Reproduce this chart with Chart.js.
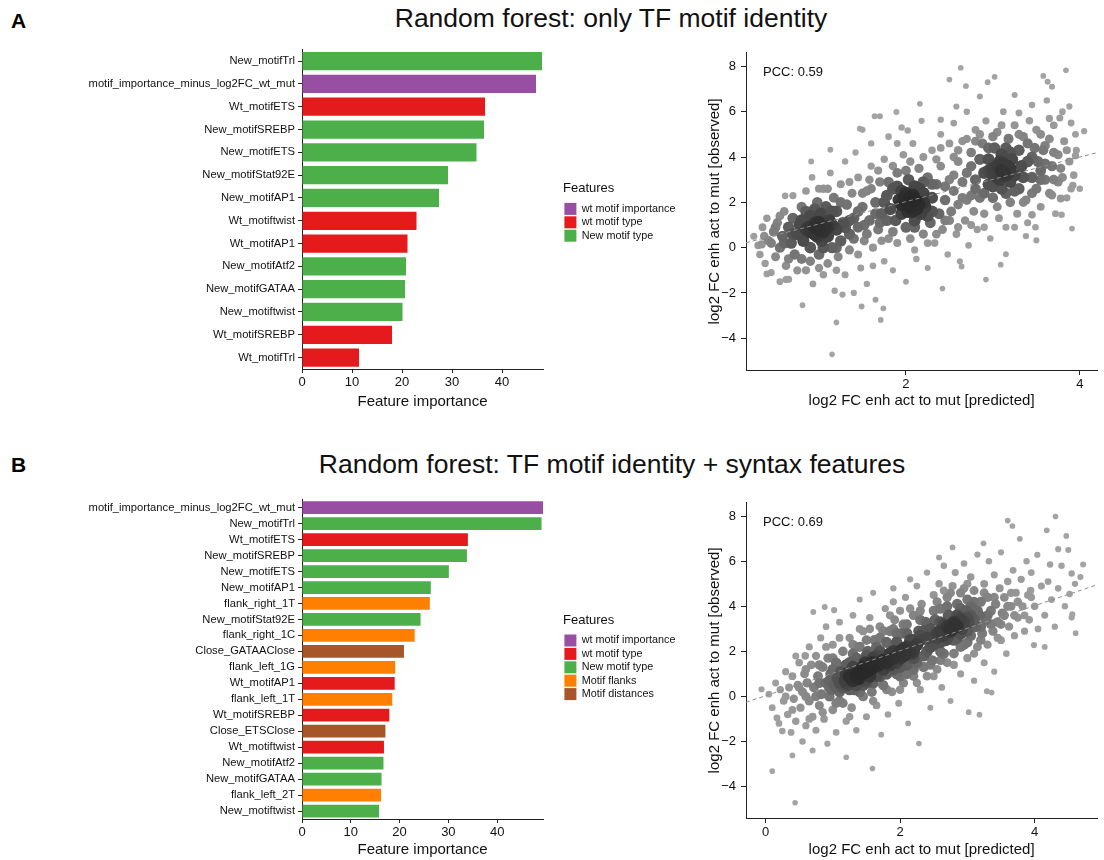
<!DOCTYPE html>
<html>
<head>
<meta charset="utf-8">
<script src="https://cdn.jsdelivr.net/npm/chart.js@4"></script>
<style>
  body { margin: 0; background: #fff; font-family: "Liberation Sans", Arial, Helvetica, sans-serif; }
  #fig { position: relative; width: 1104px; height: 860px; overflow: hidden; }
  .box { position: absolute; }
  .panel { position: absolute; font-weight: bold; font-size: 21px; color: #000; }
  .title { position: absolute; font-size: 26.5px; color: #111; white-space: nowrap; transform: translateX(-50%); }
</style>
</head>
<body>
<div id="fig">
  <div class="panel" style="left:11px;top:9px">A</div>
  <div class="title" style="left:611px;top:3px">Random forest: only TF motif identity</div>
  <div class="box" style="left:0;top:40px;width:720px;height:372px"><canvas id="barA"></canvas></div>
  <div class="box" style="left:690px;top:40px;width:414px;height:380px"><canvas id="scatA"></canvas></div>

  <div class="panel" style="left:11px;top:453px">B</div>
  <div class="title" style="left:612px;top:449px">Random forest: TF motif identity + syntax features</div>
  <div class="box" style="left:0;top:490px;width:720px;height:370px"><canvas id="barB"></canvas></div>
  <div class="box" style="left:690px;top:490px;width:414px;height:370px"><canvas id="scatB"></canvas></div>
</div>

<script>
// ---- data ----
const groupNames = ['wt motif importance', 'wt motif type', 'New motif type', 'Motif flanks', 'Motif distances'];
const groupColors = ['#984ea3', '#e41a1c', '#4daf4a', '#ff7f00', '#a65628'];

const featuresA = ['New_motifTrl', 'motif_importance_minus_log2FC_wt_mut', 'Wt_motifETS', 'New_motifSREBP',
  'New_motifETS', 'New_motifStat92E', 'New_motifAP1', 'Wt_motiftwist', 'Wt_motifAP1', 'New_motifAtf2',
  'New_motifGATAA', 'New_motiftwist', 'Wt_motifSREBP', 'Wt_motifTrl'];
const importanceA = [48.0, 46.8, 36.6, 36.4, 34.9, 29.2, 27.4, 22.9, 21.1, 20.8, 20.6, 20.1, 18.0, 11.4];
const groupA = ['New motif type', 'wt motif importance', 'wt motif type', 'New motif type', 'New motif type',
  'New motif type', 'New motif type', 'wt motif type', 'wt motif type', 'New motif type', 'New motif type',
  'New motif type', 'wt motif type', 'wt motif type'];

const featuresB = ['motif_importance_minus_log2FC_wt_mut', 'New_motifTrl', 'Wt_motifETS', 'New_motifSREBP',
  'New_motifETS', 'New_motifAP1', 'flank_right_1T', 'New_motifStat92E', 'flank_right_1C', 'Close_GATAAClose',
  'flank_left_1G', 'Wt_motifAP1', 'flank_left_1T', 'Wt_motifSREBP', 'Close_ETSClose', 'Wt_motiftwist',
  'New_motifAtf2', 'New_motifGATAA', 'flank_left_2T', 'New_motiftwist'];
const importanceB = [49.4, 49.1, 34.0, 33.8, 30.1, 26.4, 26.2, 24.3, 23.1, 20.9, 19.1, 19.0, 18.5, 17.9, 17.1,
  16.8, 16.7, 16.3, 16.2, 15.8];
const groupB = ['wt motif importance', 'New motif type', 'wt motif type', 'New motif type', 'New motif type',
  'New motif type', 'Motif flanks', 'New motif type', 'Motif flanks', 'Motif distances', 'Motif flanks',
  'wt motif type', 'Motif flanks', 'wt motif type', 'Motif distances', 'wt motif type', 'New motif type',
  'New motif type', 'Motif flanks', 'New motif type'];

const barTicks = [0, 10, 20, 30, 40];
const barMaxA = 48.2;
const barMaxB = 49.4;

// predicted vs observed log2 FC (a sample of the cloud)
const scatterA = [
  [0.25,0.5],[0.3,0.1],[0.32,-0.3],[0.35,0.9],[0.38,-0.7],[0.4,1.3],[0.42,0.3],[0.45,-1.1],[0.48,0.7],[0.5,-0.4],
  [0.52,1.1],[0.55,0.0],[0.55,-1.5],[0.58,0.5],[0.6,1.6],[0.62,-0.8],[0.65,0.9],[0.65,-1.4],[0.68,0.2],[0.7,2.3],
  [0.7,1.3],[0.72,-0.3],[0.37,0.51],[0.34,0.14],[0.4,-1.16],[0.62,-1.41],[0.61,2.29],[0.6,0.2],[0.5,0.9],
  [0.45,0.2],[0.55,1.4],[0.65,-0.5],[0.7,0.6],[0.75,-1.0],
  [0.75,0.6],[0.78,1.0],[0.8,-0.5],[0.8,1.8],[0.82,0.3],[0.85,2.5],[0.85,-1.0],[0.88,0.9],[0.9,1.4],[0.9,0.0],
  [0.92,3.1],[0.93,-1.6],[0.95,0.6],[0.96,1.1],[0.98,2.0],[1.0,0.8],[1.0,-0.3],[1.02,1.5],[1.03,0.3],[1.05,2.6],
  [1.05,-1.2],[1.07,0.9],[1.08,1.8],[1.1,0.5],[1.1,-0.7],[1.12,1.2],[1.13,3.3],[1.15,0.0],[1.17,2.2],[1.18,-1.9],
  [1.2,0.8],[1.2,1.6],[1.22,-0.4],[1.25,2.8],[1.25,0.3],[1.28,1.1],[1.3,-1.2],[1.3,3.8],[1.32,1.9],[1.35,0.6],
  [1.35,-0.1],[1.38,2.4],[1.4,1.3],[1.4,-2.0],[0.95,0.9],[1.05,0.7],[0.9,0.7],[1.0,1.1],[1.1,0.9],[0.98,0.5],
  [1.15,1.0],[0.85,0.8],[0.91,3.8],[1.13,4.32],[0.81,-2.54],[1.15,-4.71],[1.2,-3.3],[1.27,-2.07],
  [0.8,1.2],[0.95,1.7],[1.1,2.6],[1.2,0.0],[1.3,0.9],[1.0,-0.9],[1.4,0.4],
  [0.85,1.6],[0.9,-0.6],[1.0,2.6],[1.05,0.0],[1.15,1.6],[1.2,-1.0],[1.25,2.0],[1.35,1.2],[1.35,2.9],
  [1.42,4.2],[1.45,0.9],[1.45,3.1],[1.48,-0.9],[1.5,1.8],[1.5,5.2],[1.52,0.3],[1.55,2.5],[1.55,-1.6],[1.58,1.2],
  [1.6,3.6],[1.6,4.6],[1.62,0.0],[1.65,2.0],[1.65,-2.3],[1.68,0.8],[1.7,2.9],[1.7,5.8],[1.72,1.5],[1.75,-0.6],
  [1.75,3.9],[1.78,2.3],[1.8,0.4],[1.8,4.9],[1.49,-2.6],[1.71,-3.19],[1.74,-2.68],[1.64,5.8],[1.47,5.25],
  [1.45,1.6],[1.55,0.6],[1.6,2.6],[1.7,1.1],[1.75,2.0],
  [1.45,-0.3],[1.5,2.4],[1.52,1.0],[1.58,3.0],[1.62,-0.8],[1.65,1.5],[1.68,3.4],[1.72,0.3],[1.78,1.2],[1.8,2.9],
  [1.82,1.7],[1.85,2.6],[1.85,-1.0],[1.88,1.2],[1.9,3.3],[1.9,0.2],[1.92,2.1],[1.95,5.3],[1.95,1.5],[1.97,4.1],
  [2.0,2.4],[2.0,0.9],[2.0,-1.5],[2.02,1.9],[2.03,3.0],[2.05,2.2],[2.05,0.4],[2.07,1.6],[2.08,4.6],[2.1,2.7],
  [2.1,1.2],[2.12,-0.5],[2.13,2.0],[2.15,3.5],[2.17,1.5],[2.18,5.6],[2.2,2.4],[2.2,0.6],[2.22,1.8],[2.25,3.1],
  [2.25,-0.9],[2.28,1.1],[2.3,4.3],[2.3,2.2],[2.33,0.2],[2.35,2.8],[2.38,1.5],[2.4,5.0],[2.4,3.6],[2.42,0.8],
  [2.45,2.1],[2.48,-0.3],[2.5,3.0],[2.5,4.6],[2.0,2.0],[2.05,1.8],[2.1,2.1],[1.98,2.2],[2.15,1.9],[2.08,2.3],
  [1.95,1.9],[2.12,1.7],[2.02,1.6],[2.2,2.0],[1.89,5.99],[2.16,6.35],[2.02,5.17],[2.4,5.65],[2.42,-1.8],
  [1.85,3.6],[1.9,2.7],[2.0,3.4],[2.1,0.9],[2.3,1.6],[2.35,3.9],[2.45,1.2],[2.2,2.9],[2.25,0.2],
  [1.85,0.7],[1.9,4.6],[1.95,2.5],[2.05,3.8],[2.1,-0.1],[2.15,2.6],[2.2,4.0],[2.25,1.4],[2.3,2.8],[2.35,0.6],
  [2.4,4.4],[2.45,2.7],[2.5,1.2],
  [2.52,1.6],[2.55,5.5],[2.55,2.5],[2.58,0.6],[2.6,3.8],[2.6,1.9],[2.62,-0.6],[2.65,4.7],[2.65,2.9],[2.68,1.2],
  [2.7,3.3],[2.7,6.0],[2.72,0.1],[2.75,2.3],[2.75,4.2],[2.78,1.6],[2.8,5.2],[2.8,3.0],[2.82,0.8],[2.85,3.9],
  [2.85,2.2],[2.58,6.23],[2.5,7.42],[2.63,7.94],[2.69,7.13],[2.64,-0.83],[2.85,6.67],
  [2.55,3.2],[2.6,4.3],[2.7,2.1],[2.75,3.6],[2.8,4.7],
  [2.55,4.0],[2.6,0.9],[2.65,2.2],[2.7,4.8],[2.75,1.0],[2.8,2.6],[2.85,5.0],
  [2.88,4.6],[2.9,3.3],[2.9,1.5],[2.92,5.6],[2.95,2.8],[2.95,3.9],[2.97,0.4],[3.0,3.5],[3.0,2.2],[3.02,4.4],
  [3.05,3.1],[3.05,5.1],[3.07,1.3],[3.08,3.8],[3.1,2.6],[3.1,4.1],[3.12,6.0],[3.13,3.3],[3.15,0.9],[3.17,3.6],
  [3.18,4.8],[3.2,2.9],[3.2,2.0],[3.22,3.9],[3.25,5.4],[3.25,3.2],[3.28,1.5],[3.3,4.3],[3.3,2.6],[3.33,3.6],
  [3.35,4.9],[3.38,2.1],[3.4,3.8],[3.4,1.1],[3.42,5.6],[3.45,3.1],[3.48,4.4],[3.5,2.6],[3.1,3.4],[3.05,3.6],
  [3.15,3.2],[3.2,3.5],[3.0,3.2],[3.12,3.7],[3.18,3.3],[3.08,3.0],[2.94,7.3],[3.02,7.54],[2.92,-1.41],
  [3.25,6.74],[3.3,5.94],[3.45,6.3],[3.15,-0.29],[3.09,-0.75],[3.38,0.51],[3.5,0.32],[3.49,0.9],[3.45,1.45],
  [2.9,2.4],[2.95,4.4],[3.0,2.7],[3.15,4.4],[3.25,2.5],[3.35,3.1],[3.45,4.0],
  [2.9,0.9],[2.95,3.4],[3.0,4.9],[3.05,1.8],[3.1,5.4],[3.15,2.4],[3.2,4.2],[3.25,0.9],[3.3,5.0],[3.35,2.0],
  [3.4,4.6],[3.45,2.4],[3.5,5.2],
  [3.52,3.8],[3.55,5.0],[3.55,1.8],[3.58,4.3],[3.6,3.0],[3.62,6.5],[3.65,2.4],[3.65,4.8],[3.68,3.6],[3.7,5.4],
  [3.72,1.5],[3.75,4.1],[3.75,2.9],[3.78,3.5],[3.8,6.0],[3.82,4.7],[3.85,2.2],[3.88,3.8],[3.9,5.5],[3.93,3.2],
  [3.96,4.3],[4.0,2.6],[3.84,7.83],[3.58,7.58],[3.68,7.1],[3.63,7.32],[3.77,5.72],[3.88,6.23],[3.91,0.84],
  [4.05,5.14],[3.95,4.06],[3.92,2.75],[3.79,1.45],[3.78,2.17],[3.68,2.32],[3.55,3.4],[3.6,4.5],[3.7,3.0],
  [3.55,3.0],[3.6,3.7],[3.65,5.7],[3.7,4.2],[3.8,3.1],[3.85,4.3],[3.9,2.6],[3.95,5.0]
];

const scatterB = [
  [-0.06,0.32],[0.05,0.1],[0.1,-0.5],[0.15,0.6],[0.2,-1.2],[0.22,0.3],[0.27,-0.2],[0.3,1.1],[0.33,-0.8],[0.35,0.4],
  [0.38,-1.6],[0.4,0.9],[0.42,-0.1],[0.45,-1.1],[0.48,0.5],[0.5,1.5],[0.52,-0.5],[0.55,0.2],[0.55,-2.0],[0.58,1.0],
  [0.6,-1.3],[0.62,0.6],[0.65,2.2],[0.65,-0.2],[0.68,1.4],[0.7,-0.9],[0.7,-2.4],[0.1,-3.32],[0.44,-4.72],
  [0.4,-2.62],[0.25,-1.54],[0.17,-0.96],[0.45,1.8],[0.59,1.8],[0.71,3.75],[0.88,3.97],[1.02,3.83],[0.6,0.0],
  [0.3,0.0],[0.4,-0.6],[0.5,0.4],[0.6,1.2],[0.65,-1.0],
  [0.72,0.4],[0.75,1.8],[0.75,-1.5],[0.78,0.9],[0.8,-0.4],[0.82,2.6],[0.83,0.1],[0.85,1.3],[0.87,-1.0],[0.9,0.6],
  [0.9,3.1],[0.92,-2.1],[0.93,1.7],[0.95,0.0],[0.97,1.0],[1.0,2.3],[1.0,-0.6],[1.02,0.5],[1.05,1.5],[1.05,-1.6],
  [1.07,0.8],[1.1,3.3],[1.1,0.2],[1.12,1.1],[1.15,-0.3],[1.15,2.0],[1.18,0.7],[1.2,-1.1],[1.2,1.4],[1.2,-2.7],
  [1.59,-3.2],[0.95,0.7],[1.05,0.4],[1.1,0.6],[0.98,0.3],[0.8,0.6],[1.0,1.2],[1.15,0.4],[1.1,-0.2],
  [0.75,0.0],[0.8,1.4],[0.85,-0.7],[0.9,2.2],[0.95,0.4],[1.0,1.7],[1.05,-0.3],[1.1,2.6],[1.2,1.0],
  [1.22,0.5],[1.25,2.6],[1.25,0.9],[1.28,-0.5],[1.3,1.3],[1.3,3.6],[1.32,0.3],[1.35,1.7],[1.35,-1.5],[1.38,0.8],
  [1.4,2.2],[1.4,4.3],[1.42,1.1],[1.45,0.0],[1.45,2.9],[1.48,1.5],[1.5,0.6],[1.5,-0.9],[1.52,2.0],[1.55,1.2],
  [1.55,3.5],[1.58,0.2],[1.6,1.7],[1.6,4.6],[1.62,2.5],[1.65,0.9],[1.65,-0.4],[1.68,1.4],[1.7,3.1],[1.7,2.0],
  [1.72,-1.7],[1.75,0.5],[1.75,1.6],[1.78,3.9],[1.8,2.4],[1.8,1.0],[1.3,0.7],[1.4,0.9],[1.5,1.1],[1.6,1.3],
  [1.7,1.5],[1.2,0.6],[1.45,1.3],[1.55,0.9],[1.65,1.8],[1.75,1.2],[1.35,0.5],[1.25,0.3],[1.48,0.7],[1.58,1.5],
  [1.3,1.9],[1.4,0.2],[1.5,2.5],[1.6,0.6],[1.7,2.6],[1.8,1.5],[1.25,1.5],
  [1.25,-0.9],[1.3,2.3],[1.35,1.0],[1.4,3.0],[1.45,0.5],[1.5,1.8],[1.55,3.0],[1.6,-0.2],[1.65,2.2],[1.7,0.9],
  [1.75,2.9],[1.8,0.3],
  [1.82,-0.8],[1.85,2.9],[1.85,1.4],[1.88,0.2],[1.9,2.0],[1.9,4.8],[1.92,3.4],[1.95,1.0],[1.95,2.4],[1.98,-0.3],
  [2.0,1.7],[2.0,3.8],[2.02,2.8],[2.05,0.6],[2.05,2.1],[2.08,4.4],[2.1,1.4],[2.1,3.2],[2.12,-1.2],[2.15,2.5],
  [2.15,5.2],[2.18,1.9],[2.2,0.9],[2.2,3.6],[2.22,2.2],[2.25,4.9],[2.25,1.5],[2.28,2.9],[2.3,0.3],[2.3,2.5],
  [2.32,4.1],[2.35,1.8],[2.38,3.3],[2.4,0.9],[2.4,5.5],[2.42,2.6],[2.45,-0.5],[2.45,3.0],[2.48,1.6],[2.5,4.5],
  [2.5,2.3],[1.9,1.7],[2.0,2.0],[2.1,2.2],[2.2,2.5],[2.3,2.7],[2.05,1.8],[2.15,2.0],[2.25,2.3],[1.95,1.5],
  [2.35,2.9],[2.4,2.6],[2.1,1.9],[2.28,-2.09],[1.85,1.9],[2.0,1.3],[2.2,1.7],
  [1.9,3.0],[2.0,0.9],[2.1,2.8],[2.2,1.2],[2.3,3.4],[2.4,2.0],[2.45,1.4],[1.9,4.2],
  [1.85,3.6],[1.9,1.2],[1.95,2.8],[2.0,0.3],[2.05,3.2],[2.1,1.0],[2.15,3.9],[2.2,2.0],[2.25,0.6],[2.3,3.8],
  [2.35,1.3],[2.4,3.2],[2.45,2.2],[2.5,0.9],
  [2.52,3.4],[2.55,1.2],[2.55,2.8],[2.58,5.0],[2.6,3.9],[2.6,2.0],[2.62,0.4],[2.65,3.2],[2.65,5.8],[2.68,2.5],
  [2.7,4.4],[2.7,1.5],[2.72,3.6],[2.75,2.9],[2.75,-0.2],[2.78,4.9],[2.8,3.3],[2.8,1.9],[2.82,5.5],[2.85,2.6],
  [2.85,4.1],[2.88,3.5],[2.9,1.0],[2.9,4.6],[2.92,3.0],[2.95,5.9],[2.95,2.3],[2.98,3.8],[3.0,4.3],[3.0,1.7],
  [3.02,3.3],[3.05,5.3],[3.05,2.7],[3.08,3.9],[3.1,0.7],[3.1,4.7],[3.12,3.1],[3.15,2.2],[3.15,6.3],[3.18,3.6],
  [3.2,4.2],[2.6,2.9],[2.7,3.1],[2.8,3.2],[2.9,3.4],[3.0,3.5],[2.55,2.6],[2.75,3.0],[2.85,3.1],[2.95,3.3],
  [3.05,3.6],[2.65,2.7],[3.1,3.4],[2.78,6.62],[2.58,6.17],[3.02,-0.7],[2.6,2.4],[2.9,2.8],
  [2.5,3.8],[2.6,1.6],[2.7,4.0],[2.8,2.5],[2.9,3.9],[3.0,2.4],[3.1,4.2],[2.65,4.7],[3.0,5.0],
  [2.55,4.2],[2.6,3.3],[2.65,1.9],[2.7,2.6],[2.75,4.6],[2.8,1.4],[2.85,3.6],[2.9,2.2],[2.95,4.8],[3.0,2.9],
  [3.05,4.0],[3.1,1.9],[3.15,3.8],
  [3.22,2.8],[3.25,5.0],[3.25,1.5],[3.28,3.4],[3.3,4.4],[3.3,2.3],[3.32,6.0],[3.35,3.8],[3.38,2.9],[3.4,5.4],
  [3.4,1.1],[3.42,4.1],[3.45,3.3],[3.48,4.8],[3.5,2.5],[3.5,6.4],[3.52,3.7],[3.55,4.4],[3.58,1.9],[3.6,5.1],
  [3.62,3.1],[3.65,4.0],[3.68,5.6],[3.7,2.7],[3.72,4.6],[3.75,3.5],[3.78,7.0],[3.8,5.2],[3.82,4.0],[3.85,2.9],
  [3.88,6.0],[3.9,4.5],[3.92,3.4],[3.95,5.5],[4.0,4.0],[4.05,3.0],[4.1,4.9],[3.18,-0.81],[3.36,0.17],[3.29,0.23],
  [3.24,6.8],[3.6,7.81],[3.67,7.57],[3.99,2.28],[4.15,2.2],[3.94,4.7],[4.04,6.29],
  [3.2,3.1],[3.3,3.6],[3.4,4.4],[3.5,3.2],[3.6,4.0],[3.7,3.6],
  [3.2,2.5],[3.25,4.6],[3.35,3.2],[3.45,2.6],[3.55,3.6],[3.65,4.6],[3.75,4.2],[3.85,3.6],[3.95,4.4],
  [4.15,3.6],[4.2,5.1],[4.25,4.3],[4.3,3.1],[4.35,4.8],[4.4,5.8],[4.45,4.0],[4.5,6.5],[4.55,3.5],[4.6,5.0],
  [4.31,7.99],[4.18,7.38],[4.47,7.13],[4.72,5.86],[4.55,5.46],[4.68,5.3],[4.56,3.65],[4.61,2.81],[4.35,6.54],
  [4.23,5.86],[4.52,4.55]
];

const pccA = '0.59';
const pccB = '0.69';
const fitA = [0.06, 0.985];   // intercept, slope of dashed line
const fitB = [0.03, 1.0];
const xRangeA = [0.16, 4.2];
const xRangeB = [-0.29, 4.93];
const yRange = [-5.4, 8.6];
const xTicksA = [2, 4];
const xTicksB = [0, 2, 4];
const yTicks = [-4, -2, 0, 2, 4, 6, 8];

// ---- drawing ----
const fontFamily = '"Liberation Sans", Arial, Helvetica, sans-serif';
Chart.defaults.font.family = fontFamily;
Chart.defaults.color = '#111';
Chart.defaults.animation = false;

const axisColor = '#222';
const minus = v => (v < 0 ? '\u2212' + Math.abs(v) : String(v));

// keep the legend's left edge where the reference puts it
const legendPlace = {
  id: 'legendPlace',
  beforeInit(chart, args, opts) {
    const lg = chart.legend;
    const fit = lg.fit;
    lg.fit = function () {
      fit.call(this);
      this.width = chart.width - opts.areaRight;
    };
  },
  afterLayout(chart, args, opts) {
    const lg = chart.legend;
    const w = lg.width;
    lg.left = opts.legendLeft;
    lg.right = opts.legendLeft + w;
    lg.top += opts.shiftY || 0;
    lg.bottom += opts.shiftY || 0;
  }
};

function barChart(id, labels, values, groups, xMax, padTop, xAxisH, shiftY) {
  const used = groupNames.filter(n => groups.includes(n));
  const datasets = used.map(name => ({
    label: name,
    data: values.map((v, i) => (groups[i] === name ? v : null)),
    backgroundColor: groupColors[groupNames.indexOf(name)],
    borderWidth: 0,
    barPercentage: 1,
    categoryPercentage: 0.8
  }));

  return new Chart(document.getElementById(id), {
    type: 'bar',
    data: { labels: labels, datasets: datasets },
    plugins: [legendPlace],
    options: {
      indexAxis: 'y',
      responsive: true,
      maintainAspectRatio: false,
      layout: { padding: { top: padTop, left: 0, right: 0, bottom: 0 } },
      plugins: {
        legendPlace: { areaRight: 543, legendLeft: 563, shiftY: shiftY },
        legend: {
          position: 'right',
          align: 'center',
          title: { display: true, text: 'Features', position: 'start', color: '#111',
                   font: { size: 13 }, padding: { top: 0, bottom: 4 } },
          labels: { boxWidth: 12, boxHeight: 12, padding: 1.4, color: '#111', font: { size: 10.8 } }
        },
        tooltip: { enabled: false }
      },
      scales: {
        x: {
          stacked: true,
          min: 0,
          max: xMax,
          afterBuildTicks: s => { s.ticks = barTicks.map(v => ({ value: v })); },
          afterFit: s => { s.height = xAxisH; },
          grid: { display: true, drawOnChartArea: false, drawTicks: true, tickLength: 4, color: axisColor },
          border: { display: true, color: axisColor, width: 1 },
          ticks: { font: { size: 13 }, padding: 2, color: '#111' },
          title: { display: true, text: 'Feature importance', color: '#111', font: { size: 15 },
                   padding: { top: 0, bottom: 1 } }
        },
        y: {
          stacked: true,
          afterFit: s => { s.width = 302; },
          grid: { display: true, drawOnChartArea: false, drawTicks: true, tickLength: 4, offset: false, color: axisColor },
          border: { display: true, color: axisColor, width: 1 },
          ticks: { font: { size: 11.2 }, padding: 3, color: '#111', autoSkip: false }
        }
      }
    }
  });
}

const pccLabel = {
  id: 'pccLabel',
  afterDraw(chart, args, opts) {
    const { ctx, chartArea } = chart;
    ctx.save();
    ctx.font = '13px ' + fontFamily;
    ctx.fillStyle = '#111';
    ctx.textBaseline = 'middle';
    ctx.fillText('PCC: ' + opts.value, chartArea.left + 17, chartArea.top + 20);
    ctx.restore();
  }
};

// rank points by local density (in screen pixels); dense ones darker, drawn last
function shade(pts, sx, sy) {
  const s2 = 2 * 18 * 18;
  const dens = pts.map(([x0, y0]) => pts.reduce((acc, [x1, y1]) => {
    const dx = (x1 - x0) * sx, dy = (y1 - y0) * sy;
    return acc + Math.exp(-(dx * dx + dy * dy) / s2);
  }, 0));
  const items = pts.map((p, i) => ({ x: p[0], y: p[1], d: dens[i] })).sort((a, b) => a.d - b.d);
  items.forEach((p, i) => { p.t = i / (items.length - 1); });
  return items;
}

function scatterChart(id, pts, fit, xRange, xTicks, pcc, g) {
  const sx = g.w / (xRange[1] - xRange[0]);
  const sy = g.h / (yRange[1] - yRange[0]);
  const items = shade(pts, sx, sy);
  const grey = items.map(p => {
    const v = Math.round(164 - 124 * Math.pow(p.t, 2));
    return `rgb(${v},${v},${v})`;
  });
  const rad = items.map(p => 2.8 + 4.0 * Math.pow(p.t, 1.1));

  return new Chart(document.getElementById(id), {
    type: 'scatter',
    data: {
      datasets: [
        {
          type: 'line',
          data: xRange.map(x => ({ x: x, y: fit[0] + fit[1] * x })),
          borderColor: '#8e8e8e',
          borderWidth: 1,
          borderDash: [4, 3],
          pointRadius: 0,
          fill: false,
          order: 0
        },
        {
          data: items.map(p => ({ x: p.x, y: p.y })),
          pointBackgroundColor: c => grey[c.dataIndex],
          pointBorderWidth: 0,
          pointRadius: c => rad[c.dataIndex],
          order: 1
        }
      ]
    },
    plugins: [pccLabel],
    options: {
      responsive: true,
      maintainAspectRatio: false,
      layout: { padding: { top: g.padTop, right: 1, left: 0, bottom: 0 } },
      plugins: {
        legend: { display: false },
        tooltip: { enabled: false },
        pccLabel: { value: pcc }
      },
      scales: {
        x: {
          type: 'linear',
          min: xRange[0],
          max: xRange[1],
          afterBuildTicks: s => { s.ticks = xTicks.map(v => ({ value: v })); },
          afterFit: s => { s.height = g.xAxisH; },
          grid: { display: true, drawOnChartArea: false, tickLength: 5, color: axisColor },
          border: { display: true, color: axisColor, width: 1 },
          ticks: { font: { size: 13 }, padding: 2, color: '#111', callback: v => minus(v) },
          title: { display: true, text: 'log2 FC enh act to mut [predicted]', color: '#111',
                   font: { size: 15 }, padding: { top: 0, bottom: g.titlePad } }
        },
        y: {
          type: 'linear',
          min: yRange[0],
          max: yRange[1],
          afterBuildTicks: s => { s.ticks = yTicks.map(v => ({ value: v })); },
          afterFit: s => { s.width = 56; },
          grid: { display: true, drawOnChartArea: false, tickLength: 5, color: axisColor },
          border: { display: true, color: axisColor, width: 1 },
          ticks: { font: { size: 13 }, padding: 5, color: '#111', callback: v => minus(v) },
          title: { display: true, text: 'log2 FC enh act to mut [observed]', color: '#111',
                   font: { size: 15 }, padding: { top: 16, bottom: 0 } }
        }
      }
    }
  });
}

barChart('barA', featuresA, importanceA, groupA, barMaxA, 9, 43, -18);
barChart('barB', featuresB, importanceB, groupB, barMaxB, 7, 41, -21);
scatterChart('scatA', scatterA, fitA, xRangeA, xTicksA, pccA, { w: 357, h: 321, padTop: 9, xAxisH: 50, titlePad: 10 });
scatterChart('scatB', scatterB, fitB, xRangeB, xTicksB, pccB, { w: 358, h: 321, padTop: 7, xAxisH: 42, titlePad: 1 });
</script>
</body>
</html>
